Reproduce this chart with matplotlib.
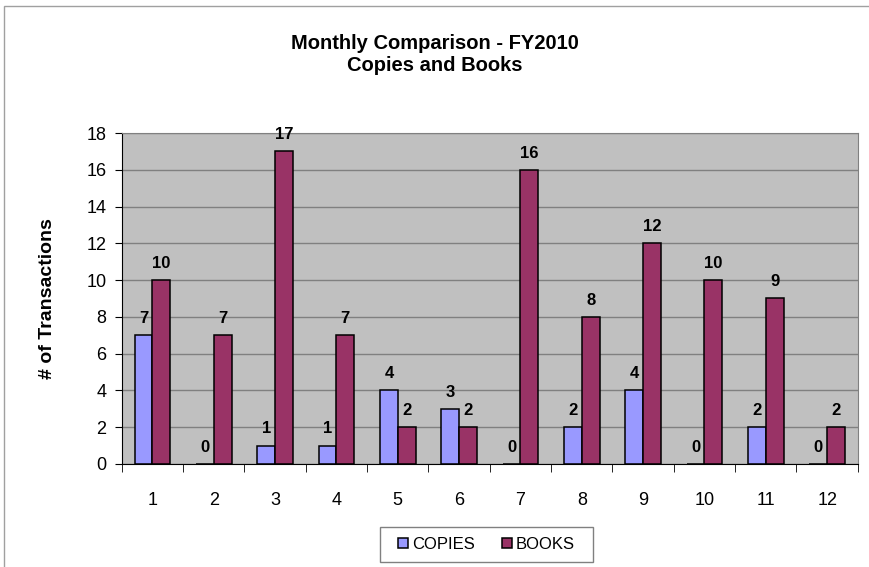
import numpy as np
import matplotlib.pyplot as plt

months = [str(m) for m in range(1, 13)]
copies = [7, 0, 1, 1, 4, 3, 0, 2, 4, 0, 2, 0]
books = [10, 7, 17, 7, 2, 2, 16, 8, 12, 10, 9, 2]

plt.rcParams['font.family'] = ['Liberation Sans', 'DejaVu Sans']

fig = plt.figure(figsize=(8.7, 5.67), dpi=100)
# outer chart border
fig.patches.append(plt.Rectangle((0.005, -0.01), 1.2, 1.0, transform=fig.transFigure,
                                 fill=False, edgecolor='#a0a0a0', linewidth=1))
ax = fig.add_axes([0.140, 0.1817, 0.846, 0.5837])
ax.set_facecolor('#c0c0c0')

x = np.arange(len(months))
w = 0.29
b1 = ax.bar(x - w / 2, copies, w, color='#9999ff', edgecolor='black', linewidth=1.1, label='COPIES')
b2 = ax.bar(x + w / 2, books, w, color='#993366', edgecolor='black', linewidth=1.1, label='BOOKS')
for bars, vals in ((b1, copies), (b2, books)):
    for rect, v in zip(bars, vals):
        ax.text(rect.get_x() + rect.get_width() / 2, v + 0.5, str(v), ha='center', va='bottom',
                fontsize=12, fontweight='bold')

ax.set_xlim(-0.5, 11.5)
ax.set_ylim(0, 18)
ax.set_yticks(range(0, 19, 2))
ax.set_xticks(x)
ax.set_xticklabels(months)
ax.set_xticks(np.arange(-0.5, 12, 1), minor=True)
ax.tick_params(axis='x', which='major', length=0, pad=20, labelsize=13)
ax.tick_params(axis='x', which='minor', length=6, direction='out')
ax.tick_params(axis='y', length=5, direction='out', labelsize=13, pad=6)
ax.yaxis.grid(True, color='#808080', linewidth=1)
ax.set_axisbelow(True)
for side in ('top', 'right'):
    ax.spines[side].set_color('#808080')
ax.spines['left'].set_color('black')
ax.spines['bottom'].set_color('black')

ax.set_ylabel('# of Transactions', fontsize=14, fontweight='bold', labelpad=22)
fig.text(0.5, 0.904, 'Monthly Comparison - FY2010\nCopies and Books', ha='center', va='center',
         fontsize=14.5, fontweight='bold', linespacing=1.25)

# legend box
fig.patches.append(plt.Rectangle((380 / 870, 1 - 562 / 567), 213 / 870, 35 / 567,
                                 transform=fig.transFigure, fill=False, edgecolor='#808080',
                                 linewidth=1))
fig.legend(loc='center', bbox_to_anchor=(486.5 / 870, 1 - 544.5 / 567), ncol=2, frameon=False,
           fontsize=12, handlelength=0.6, handleheight=0.6, handletextpad=0.25, columnspacing=1.6,
           borderpad=0.3)

fig.savefig('out.png', dpi=100)
